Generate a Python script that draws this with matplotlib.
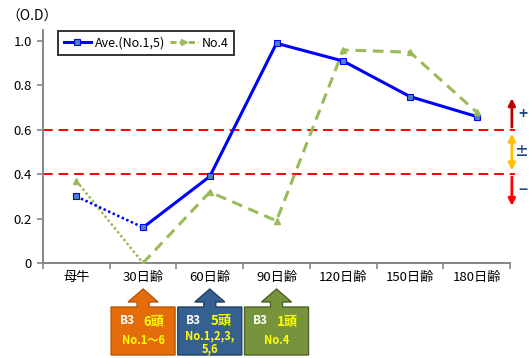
import matplotlib
matplotlib.use('Agg')
import matplotlib.pyplot as plt
from matplotlib.patches import Polygon
from matplotlib.lines import Line2D

plt.rcParams['font.family'] = ['Noto Sans CJK JP', 'DejaVu Sans']

# data
cats = ['母牛', '30日齢', '60日齢', '90日齢', '120日齢', '150日齢', '180日齢']
ave = [0.30, 0.16, 0.39, 0.99, 0.91, 0.75, 0.66]
no4 = [0.37, 0.00, 0.32, 0.19, 0.96, 0.95, 0.68]
yticks = [0, 0.2, 0.4, 0.6, 0.8, 1.0]
ytick_labels = ['0', '0.2', '0.4', '0.6', '0.8', '1.0']
thresholds = [0.6, 0.4]

# callout boxes under 30/60/90 days
box_cats = [1, 2, 3]
box_head = ['6頭', '5頭', '1頭']
box_sub = [['No.1〜6'], ['No.1,2,3,', '5,6'], ['No.4']]
box_fill = ['#E46C0A', '#376092', '#77933C']
box_edge = ['#B65708', '#24405F', '#4F6228']

W, H = 530, 358
fig = plt.figure(figsize=(W / 100, H / 100), dpi=100)
ax = fig.add_axes([43 / W, 1 - 263 / H, 467 / W, 233 / H])


def px(x, y):
    return (x / W, 1 - y / H)


blue = '#0000FF'
green = '#9BBB59'
x = list(range(len(cats)))

# dotted first segments
ax.plot(x[:2], ave[:2], color=blue, lw=1.8, ls=(0, (1, 1)), zorder=3)
ax.plot(x[:2], no4[:2], color=green, lw=1.8, ls=(0, (1, 1)), zorder=2)
ax.plot(x[1:], ave[1:], color=blue, lw=2.2, zorder=3)
ax.plot(x[1:], no4[1:], color=green, lw=2.2, ls=(0, (3.5, 2.2)), zorder=2)
ax.plot(x, ave, ls='none', marker='s', ms=4.5, mfc='#4F81BD', mec=blue, mew=0.8, zorder=4)
ax.plot(x, no4, ls='none', marker='^', ms=4, mfc=green, mec=green, zorder=4)

for t in thresholds:
    ax.axhline(t, xmin=0, xmax=1.01, color='#FF0000', lw=1.4, ls=(0, (5, 3)), clip_on=False, zorder=1)

ax.set_xlim(-0.5, len(cats) - 0.5)
ax.set_ylim(0, 1.05)
ax.set_yticks(yticks)
ax.set_yticklabels(ytick_labels, fontsize=9.5)
ax.set_xticks(x)
ax.set_xticklabels(cats, fontsize=9.5)
ax.set_xticks([i - 0.5 for i in range(len(cats) + 1)], minor=True)
ax.tick_params(axis='x', which='major', length=0, pad=6)
ax.tick_params(axis='x', which='minor', length=4, color='#868686', width=1.2)
ax.tick_params(axis='y', length=4, color='#868686', width=1.2, pad=4)
for s in ['top', 'right']:
    ax.spines[s].set_visible(False)
for s in ['left', 'bottom']:
    ax.spines[s].set_color('#868686')
    ax.spines[s].set_linewidth(1.4)

fig.text(*px(6, 17), '（O.D）', fontsize=10, va='center', ha='left')

handles = [
    Line2D([], [], color=blue, lw=2.2, marker='s', ms=4.5, mfc='#4F81BD', mec=blue, mew=0.8),
    Line2D([], [], color=green, lw=2.2, ls=(0, (2, 1)), marker='>', ms=4, mfc=green, mec=green),
]
leg = ax.legend(handles, ['Ave.(No.1,5)', 'No.4'], loc='upper left', bbox_to_anchor=(0.032, 0.995),
                ncol=2, fontsize=9, frameon=True, fancybox=False, handlelength=2.2,
                handletextpad=0.3, columnspacing=0.4, borderpad=0.45, borderaxespad=0)
leg.get_frame().set_edgecolor('black')
leg.get_frame().set_linewidth(1.4)

# right side arrows and signs
tr = ax.get_yaxis_transform()
ax.annotate('', xy=(1.004, 0.755), xytext=(1.004, 0.6), xycoords=tr, textcoords=tr,
            arrowprops=dict(arrowstyle='-|>', color='#C00000', lw=2, mutation_scale=10), annotation_clip=False)
ax.annotate('', xy=(1.004, 0.405), xytext=(1.004, 0.595), xycoords=tr, textcoords=tr,
            arrowprops=dict(arrowstyle='<|-|>', color='#FFC000', lw=2, mutation_scale=10), annotation_clip=False)
ax.annotate('', xy=(1.004, 0.245), xytext=(1.004, 0.4), xycoords=tr, textcoords=tr,
            arrowprops=dict(arrowstyle='-|>', color='#FF0000', lw=2, mutation_scale=10), annotation_clip=False)
fig.text(*px(523, 114), '+', fontsize=11, color='#1F497D', ha='center', va='center', fontweight='bold')
fig.text(*px(522, 152), '±', fontsize=10, color='#1F497D', ha='center', va='center', fontweight='bold')
fig.text(*px(523, 190), '−', fontsize=11, color='#1F497D', ha='center', va='center', fontweight='bold')

# callout boxes
for c, head, sub, fc, ec in zip(box_cats, box_head, box_sub, box_fill, box_edge):
    cx = 43 + (c + 0.5) * 467 / len(cats)
    left, right, top, bottom = cx - 32, cx + 32, 307, 355
    shape = [(left, top), (cx - 6, top), (cx - 6, 302), (cx - 15, 302), (cx, 289),
             (cx + 15, 302), (cx + 6, 302), (cx + 6, top), (right, top), (right, bottom), (left, bottom)]
    fig.add_artist(Polygon([px(*p) for p in shape], closed=True, facecolor=fc, edgecolor=ec,
                           lw=1, transform=fig.transFigure))
    y1 = 320 if len(sub) > 1 else 321
    fig.text(*px(cx - 16, y1), 'B3', color='white', fontsize=8.5, fontweight='bold', ha='center', va='center')
    fig.text(*px(cx + 11, y1), head, color='#FFFF00', fontsize=9.5, fontweight='bold', ha='center', va='center')
    ys = [336, 349] if len(sub) > 1 else [341]
    for line, yy in zip(sub, ys):
        fig.text(*px(cx, yy), line, color='#FFFF00', fontsize=8, fontweight='bold', ha='center', va='center')

fig.savefig('out.png', dpi=100)
